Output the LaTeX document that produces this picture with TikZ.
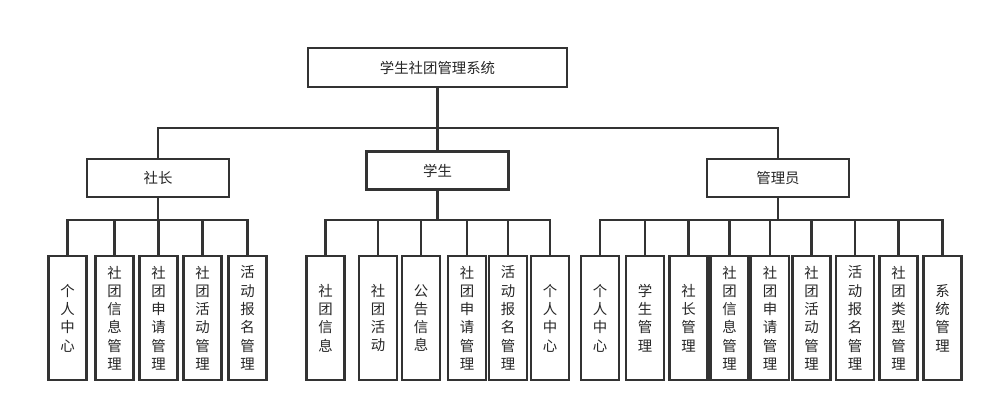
\documentclass[tikz,border=0pt]{standalone}
\usepackage{fontspec}
\newfontfamily\cjk{Noto Sans CJK SC}
\usetikzlibrary{calc}

\begin{document}
\begin{tikzpicture}[x=0.03cm,y=-0.03cm,line width=1.75pt,color=black!80,
		box/.style={draw,line width=1.75pt,inner sep=0pt,text=black!85,
			font=\cjk\fontsize{12.3}{15.6}\selectfont},
		sysbox/.style={box,minimum width=7.77cm,minimum height=1.17cm},
		rolebox/.style={box,minimum width=4.26cm,minimum height=1.14cm},
		leafbox/.style={box,minimum width=1.14cm,minimum height=3.72cm,align=center}]
				\useasboundingbox (0,0) rectangle (994,412);
				\coordinate (b1) at (0,128);
				\coordinate (b2) at (0,220);
				% top
				\node[sysbox] (sys) at (437.5,67.5) {学生社团管理系统};
				\node[rolebox] (sz) at (158,178) {社长};
				\node[rolebox] (xs) at (437.5,170.5) {学生};
				\node[rolebox] (gly) at (778,178) {管理员};
				% 社长
				\node[leafbox] (sz1) at (67.5,318) {个\\人\\中\\心};
				\node[leafbox] (sz2) at (114.5,318) {社\\团\\信\\息\\管\\理};
				\node[leafbox] (sz3) at (158.5,318) {社\\团\\申\\请\\管\\理};
				\node[leafbox] (sz4) at (202.5,318) {社\\团\\活\\动\\管\\理};
				\node[leafbox] (sz5) at (247.5,318) {活\\动\\报\\名\\管\\理};
				% 学生
				\node[leafbox] (xs1) at (325.5,318) {社\\团\\信\\息};
				\node[leafbox] (xs2) at (378,318) {社\\团\\活\\动};
				\node[leafbox] (xs3) at (421,318) {公\\告\\信\\息};
				\node[leafbox] (xs4) at (467,318) {社\\团\\申\\请\\管\\理};
				\node[leafbox] (xs5) at (508,318) {活\\动\\报\\名\\管\\理};
				\node[leafbox] (xs6) at (550,318) {个\\人\\中\\心};
				% 管理员
				\node[leafbox] (gly1) at (600,318) {个\\人\\中\\心};
				\node[leafbox] (gly2) at (645,318) {学\\生\\管\\理};
				\node[leafbox] (gly3) at (688.5,318) {社\\长\\管\\理};
				\node[leafbox] (gly4) at (729.5,318) {社\\团\\信\\息\\管\\理};
				\node[leafbox] (gly5) at (770,318) {社\\团\\申\\请\\管\\理};
				\node[leafbox] (gly6) at (811.5,318) {社\\团\\活\\动\\管\\理};
				\node[leafbox] (gly7) at (855,318) {活\\动\\报\\名\\管\\理};
				\node[leafbox] (gly8) at (898.5,318) {社\\团\\类\\型\\管\\理};
				\node[leafbox] (gly9) at (942.5,318) {系\\统\\管\\理};
				% lines
				\draw (sys.south) -- (xs.north);
				\draw (sys.south |- b1) -| (sz.north);
				\draw (sys.south |- b1) -| (gly.north);
				\draw (sz.south) -- (sz.south |- b2);
				\draw (sz.south |- b2) -| (sz1.north);
				\draw (sz.south |- b2) -| (sz2.north);
				\draw (sz.south |- b2) -| (sz3.north);
				\draw (sz.south |- b2) -| (sz4.north);
				\draw (sz.south |- b2) -| (sz5.north);
				\draw (xs.south) -- (xs.south |- b2);
				\draw (xs.south |- b2) -| (xs1.north);
				\draw (xs.south |- b2) -| (xs2.north);
				\draw (xs.south |- b2) -| (xs3.north);
				\draw (xs.south |- b2) -| (xs4.north);
				\draw (xs.south |- b2) -| (xs5.north);
				\draw (xs.south |- b2) -| (xs6.north);
				\draw (gly.south) -- (gly.south |- b2);
				\draw (gly.south |- b2) -| (gly1.north);
				\draw (gly.south |- b2) -| (gly2.north);
				\draw (gly.south |- b2) -| (gly3.north);
				\draw (gly.south |- b2) -| (gly4.north);
				\draw (gly.south |- b2) -| (gly5.north);
				\draw (gly.south |- b2) -| (gly6.north);
				\draw (gly.south |- b2) -| (gly7.north);
				\draw (gly.south |- b2) -| (gly8.north);
				\draw (gly.south |- b2) -| (gly9.north);
			\end{tikzpicture}
\end{document}
